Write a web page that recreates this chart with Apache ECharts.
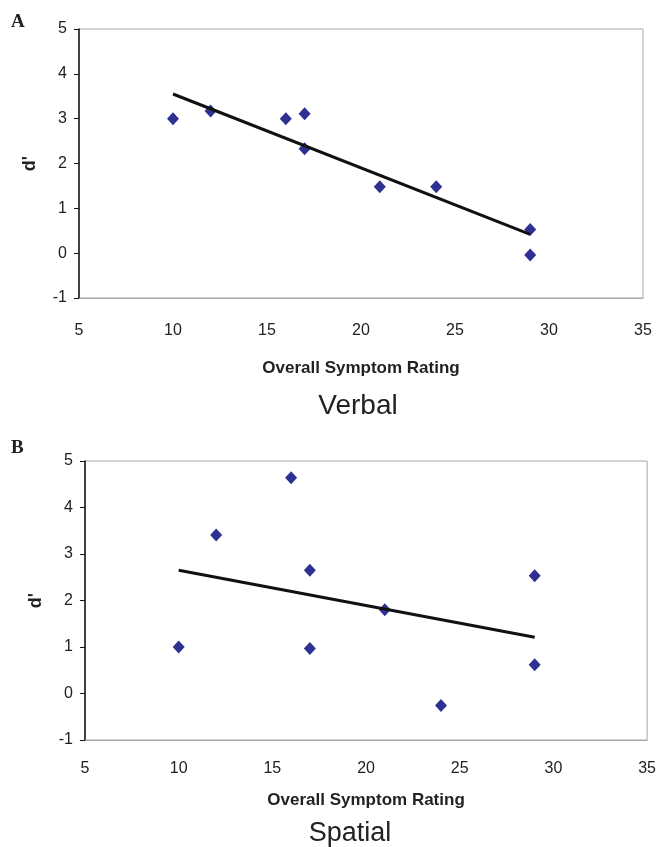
<!DOCTYPE html>
<html>
<head>
<meta charset="utf-8">
<script src="https://cdn.jsdelivr.net/npm/echarts@6/dist/echarts.min.js"></script>
<style>
html,body{margin:0;padding:0;background:#fff;}
#chart{width:659px;height:847px;}
</style>
</head>
<body>
<div id="chart"></div>
<script>
const xTicksMin = 5, xTicksMax = 35, xTickStep = 5;
const yTicksMin = -1, yTicksMax = 5, yTickStep = 1;
const symptomRating = [10, 12, 16, 17, 17, 21, 24, 29, 29];
const verbalDPrime = [3.0, 3.17, 3.0, 3.11, 2.33, 1.48, 1.48, 0.53, -0.04];
const spatialDPrime = [1.0, 3.41, 4.64, 2.65, 0.97, 1.80, -0.26, 2.53, 0.62];
const verbalTrendX = [10, 29];
const verbalTrendY = [3.55, 0.42];
const spatialTrendX = [10, 29];
const spatialTrendY = [2.65, 1.21];
const xAxisTitle = 'Overall Symptom Rating';
const yAxisTitle = "d'";
const panelLabels = ['A', 'B'];
const panelCaptions = ['Verbal', 'Spatial'];

const FONT = '"Liberation Sans", Arial, sans-serif';
const TXT = '#222';
const pairs = (xs, ys) => xs.map((x, i) => [x, ys[i]]);

function makeX(gridIndex, labelMargin, nameGap) {
  return {
    type: 'value', gridIndex, min: xTicksMin, max: xTicksMax, interval: xTickStep,
    axisLine: {show: true, onZero: false, lineStyle: {color: '#a3a7ab', width: 1}},
    axisTick: {show: false},
    splitLine: {show: false},
    axisLabel: {fontFamily: FONT, fontSize: 16, color: TXT, margin: labelMargin},
    name: xAxisTitle, nameLocation: 'middle', nameGap,
    nameTextStyle: {fontFamily: FONT, fontSize: 17, fontWeight: 'bold', color: TXT}
  };
}
function makeY(gridIndex) {
  return {
    type: 'value', gridIndex, min: yTicksMin, max: yTicksMax, interval: yTickStep,
    axisLine: {show: true, onZero: false, lineStyle: {color: '#111', width: 1.5}},
    axisTick: {show: true, inside: false, length: 5, lineStyle: {color: '#111', width: 1}},
    splitLine: {show: false},
    axisLabel: {fontFamily: FONT, fontSize: 16, color: TXT, margin: 12},
    name: yAxisTitle, nameLocation: 'middle', nameGap: 40, nameRotate: 90,
    nameTextStyle: {fontFamily: FONT, fontSize: 18, fontWeight: 'bold', color: TXT}
  };
}
function scatter(idx, ys) {
  return {
    type: 'scatter', xAxisIndex: idx, yAxisIndex: idx,
    data: pairs(symptomRating, ys), symbol: 'diamond', symbolSize: [12, 13],
    itemStyle: {color: '#2e3192', opacity: 1}, z: 3
  };
}
function trend(idx, xs, ys) {
  return {
    type: 'line', xAxisIndex: idx, yAxisIndex: idx, data: pairs(xs, ys),
    showSymbol: false, symbol: 'none', lineStyle: {color: '#111', width: 3}, z: 4,
    silent: true
  };
}

const chart = echarts.init(document.getElementById('chart'), null, {renderer: 'canvas'});
chart.setOption({
  backgroundColor: '#fff',
  animation: false,
  grid: [
    {left: 79, top: 29, width: 564, height: 269, show: true, borderColor: '#a3a7ab', borderWidth: 1, backgroundColor: '#fff'},
    {left: 85, top: 461, width: 563, height: 279, show: true, borderColor: '#a3a7ab', borderWidth: 1, backgroundColor: '#fff'}
  ],
  xAxis: [makeX(0, 25, 62), makeX(1, 21, 52)],
  yAxis: [makeY(0), makeY(1)],
  series: [
    scatter(0, verbalDPrime), trend(0, verbalTrendX, verbalTrendY),
    scatter(1, spatialDPrime), trend(1, spatialTrendX, spatialTrendY)
  ],
  graphic: [
    {type: 'text', left: 11, top: 13, style: {text: panelLabels[0], font: 'bold 19px "Liberation Serif", serif', fill: TXT}},
    {type: 'text', left: 11, top: 439, style: {text: panelLabels[1], font: 'bold 19px "Liberation Serif", serif', fill: TXT}},
    {type: 'text', x: 358, y: 406, style: {text: panelCaptions[0], font: '28px "Liberation Sans", Arial, sans-serif', fill: TXT, align: 'center', verticalAlign: 'middle'}},
    {type: 'text', x: 350, y: 834, style: {text: panelCaptions[1], font: '27px "Liberation Sans", Arial, sans-serif', fill: TXT, align: 'center', verticalAlign: 'middle'}}
  ]
});
</script>
</body>
</html>
